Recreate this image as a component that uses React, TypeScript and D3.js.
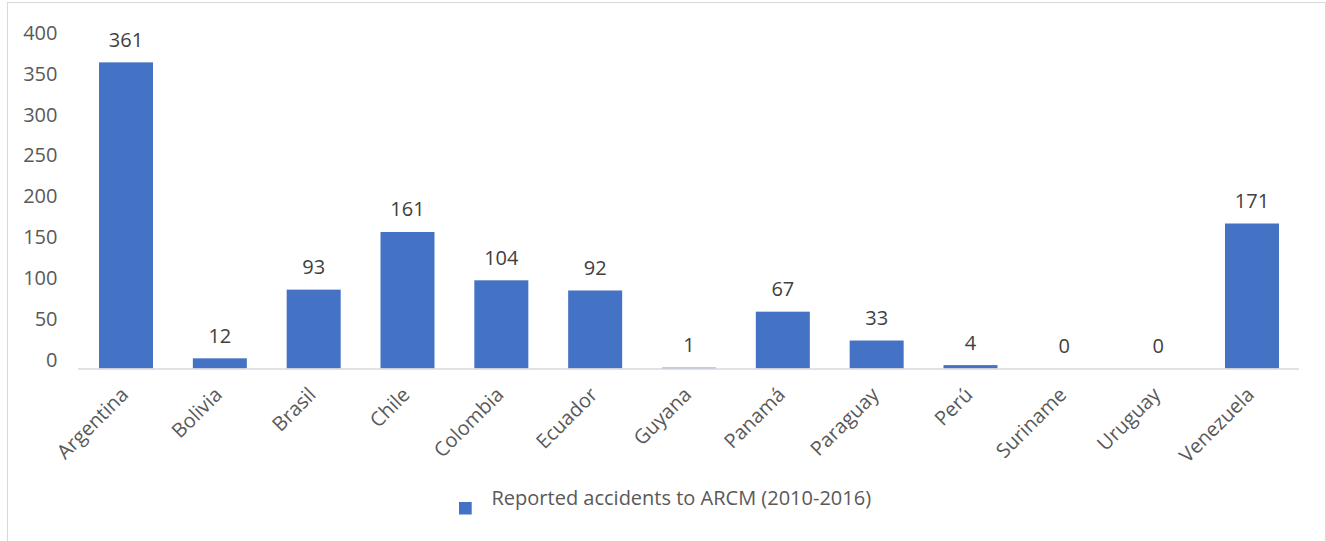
import React from "react";
import * as d3 from "d3";

const countries = [
  "Argentina", "Bolivia", "Brasil", "Chile", "Colombia", "Ecuador", "Guyana",
  "Panamá", "Paraguay", "Perú", "Suriname", "Uruguay", "Venezuela",
];
const accidents = [361, 12, 93, 161, 104, 92, 1, 67, 33, 4, 0, 0, 171];
const yTicks = [0, 50, 100, 150, 200, 250, 300, 350, 400];
const seriesName = "Reported accidents to ARCM (2010-2016)";

const W = 1326;
const H = 541;
const FONT = "'Open Sans', 'Segoe UI', sans-serif";
const BAR = "#4472C4";

export default function App() {
  const x = d3
    .scaleBand<string>()
    .domain(countries)
    .range([79.1, 1298.9])
    .paddingInner(0.4245)
    .paddingOuter(0.21225);
  const y = d3.scaleLinear().domain([0, 400]).range([368.5, 29.3]);
  // tick labels sit on their own slightly compressed scale
  const tickLabelY = d3.scaleLinear().domain([0, 400]).range([360, 32.7]);

  return (
    <svg
      width={W}
      height={H}
      style={{ position: "absolute", left: 0, top: 0, background: "#fff" }}
    >
      <rect x={7.5} y={2.5} width={1318} height={560} fill="#fff" stroke="#D9D9D9" strokeWidth={1} />

      {yTicks.map((t) => (
        <text
          key={t}
          x={57.5}
          y={tickLabelY(t)}
          dy="0.35em"
          textAnchor="end"
          fontFamily={FONT}
          fontSize={20}
          fill="#595959"
        >
          {t}
        </text>
      ))}

      {countries.map((c, i) => {
        const v = accidents[i];
        const bx = x(c)!;
        const bw = x.bandwidth();
        return (
          <g key={c}>
            <rect x={bx} y={y(v)} width={bw} height={y(0) - y(v)} fill={BAR} />
            <text
              x={bx + bw / 2}
              y={y(v) - 15.5}
              textAnchor="middle"
              fontFamily={FONT}
              fontSize={20}
              fill="#404040"
            >
              {v}
            </text>
            <text
              transform={`translate(${bx + bw / 2 + 3.5},396) rotate(-45)`}
              textAnchor="end"
              fontFamily={FONT}
              fontSize={20}
              fill="#595959"
            >
              {c}
            </text>
          </g>
        );
      })}

      <line x1={78} x2={1299} y1={369} y2={369} stroke="#D9D9D9" strokeWidth={1.5} />

      <rect x={459} y={502} width={12.7} height={12.5} fill={BAR} />
      <text x={491.5} y={505} fontFamily={FONT} fontSize={20} fill="#595959">
        {seriesName}
      </text>
    </svg>
  );
}
